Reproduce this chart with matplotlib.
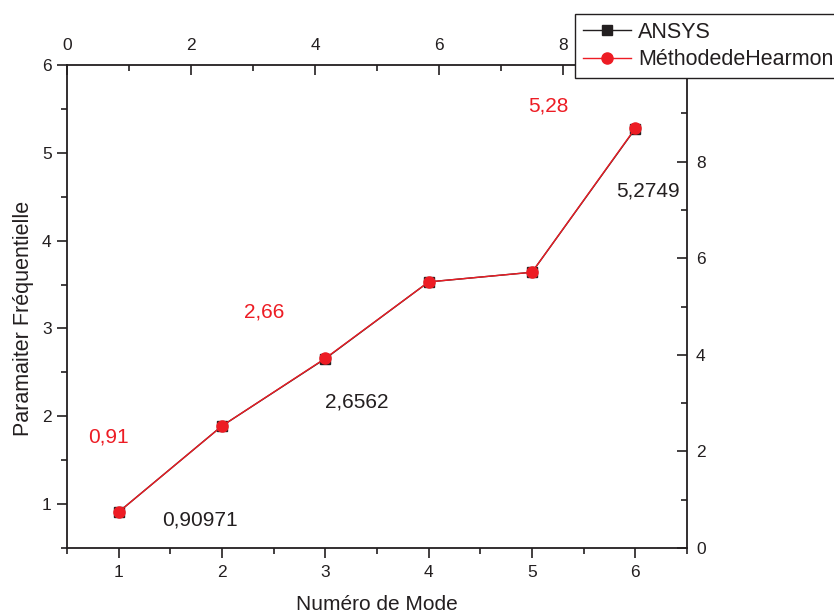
import matplotlib
matplotlib.use('Agg')
import matplotlib.pyplot as plt
from matplotlib.ticker import MultipleLocator, FixedLocator

plt.rcParams['font.family'] = ['Liberation Sans', 'DejaVu Sans']

modes = [1, 2, 3, 4, 5, 6]
ansys = [0.90971, 1.89, 2.6562, 3.53, 3.64, 5.2749]
hearmon = [0.91, 1.89, 2.66, 3.53, 3.64, 5.28]

# value labels: (text, x, y)
ansys_labels = [('0,90971', 1.79, 0.82), ('2,6562', 3.30, 2.16), ('5,2749', 6.12, 4.57)]
hearmon_labels = [('0,91', 0.90, 1.76), ('2,66', 2.41, 3.19), ('5,28', 5.16, 5.53)]

top_ticks = [0, 2, 4, 6, 8]
right_ticks = [0, 2, 4, 6, 8]

red = '#ED1C24'
dark = '#231F20'
fs_tick = 12.5

fig = plt.figure(figsize=(8.34, 6.15), dpi=100)
ax = fig.add_axes([67/834, 1 - 548/615, 620/834, 483/615])

ax.plot(modes, ansys, color=dark, lw=1.0, marker='s', ms=7, label='ANSYS', zorder=3)
ax.plot(modes, hearmon, color=red, lw=1.0, marker='o', ms=8, label='MéthodedeHearmon', zorder=4)

for t, x, y in ansys_labels:
    ax.text(x, y, t, color=dark, fontsize=15, ha='center', va='center')
for t, x, y in hearmon_labels:
    ax.text(x, y, t, color=red, fontsize=15, ha='center', va='center')

ax.set_xlim(0.5, 6.5)
ax.set_ylim(0.5, 6)
ax.xaxis.set_major_locator(MultipleLocator(1))
ax.xaxis.set_minor_locator(MultipleLocator(0.5))
ax.yaxis.set_major_locator(MultipleLocator(1))
ax.yaxis.set_minor_locator(MultipleLocator(0.5))
ax.tick_params(which='both', direction='out', width=1.2, color=dark, labelsize=fs_tick, labelcolor=dark)
ax.tick_params(which='major', length=7)
ax.tick_params(which='minor', length=4)
ax.tick_params(axis='x', pad=5)
ax.tick_params(axis='y', pad=4)
ax.spines['top'].set_visible(False)
ax.spines['right'].set_visible(False)
for s in ['left', 'bottom']:
    ax.spines[s].set_linewidth(1.3)
    ax.spines[s].set_color(dark)

ax.set_xlabel('Numéro de Mode', fontsize=15, color=dark, labelpad=11)
ax.set_ylabel('Paramaiter Fréquentielle', fontsize=15.5, color=dark)
ax.yaxis.set_label_coords(-0.053, 0.475)

# top axis
axt = ax.twiny()
axt.set_xlim(0, 10)
axt.xaxis.set_major_locator(FixedLocator(top_ticks))
axt.xaxis.set_minor_locator(MultipleLocator(1))
axt.tick_params(which='both', direction='in', width=1.2, color=dark, labelsize=fs_tick, labelcolor=dark)
axt.tick_params(which='major', length=7, pad=9)
axt.tick_params(which='minor', length=4)

# right axis
axr = ax.twinx()
axr.set_ylim(0, 10)
axr.yaxis.set_major_locator(FixedLocator(right_ticks))
axr.yaxis.set_minor_locator(MultipleLocator(1))
axr.tick_params(which='both', direction='in', width=1.2, color=dark, labelsize=fs_tick, labelcolor=dark)
axr.tick_params(which='major', length=7, pad=6.5)
axr.tick_params(which='minor', length=4)

for a in [axt, axr]:
    for s in a.spines.values():
        s.set_visible(False)
axt.spines['top'].set_visible(True)
axt.spines['top'].set_linewidth(1.3)
axt.spines['top'].set_color(dark)
axr.spines['right'].set_visible(True)
axr.spines['right'].set_linewidth(1.3)
axr.spines['right'].set_color(dark)

handles, labels = ax.get_legend_handles_labels()
leg = fig.legend(handles, labels, loc='upper left', bbox_to_anchor=(575/834, 1 - 14/615),
                 borderaxespad=0, fontsize=15.5, frameon=True, fancybox=False,
                 edgecolor=dark, framealpha=1, handlelength=2.25, handletextpad=0.32,
                 borderpad=0.35, labelspacing=0.32)
leg.get_frame().set_linewidth(1.0)
for t in leg.get_texts():
    t.set_color(dark)

fig.savefig('out.png', dpi=100)
